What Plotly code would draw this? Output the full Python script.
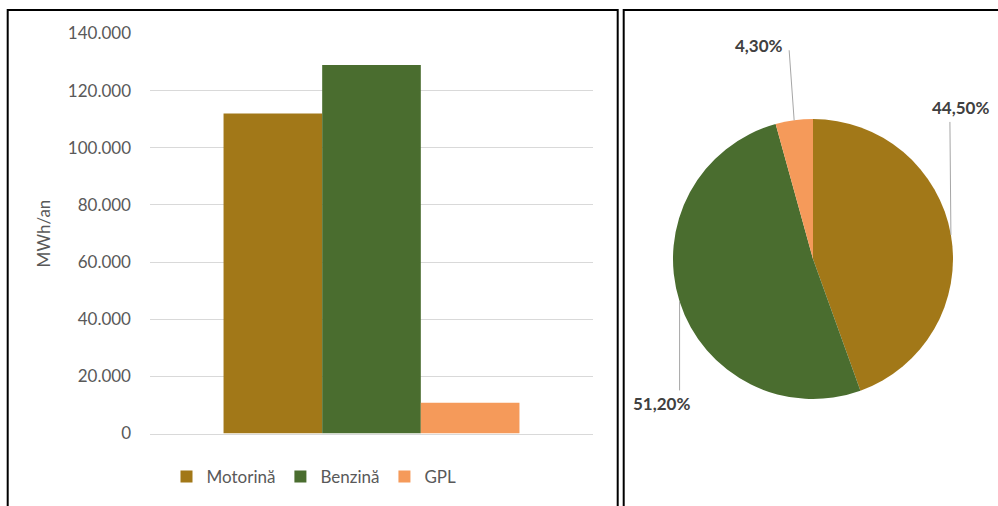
import math
import plotly.graph_objects as go

# ---------------- data ----------------
fuels = ["Motorină", "Benzină", "GPL"]
consumption_mwh = [112000, 129000, 10800]
share_pct = [44.5, 51.2, 4.3]
category = ["Consum"]
y_tick_values = [0, 20000, 40000, 60000, 80000, 100000, 120000, 140000]
y_axis_title = "MWh/an"

# ---------------- style ----------------
colors = ["#A27818", "#4A6D2F", "#F59A5A"]
W, H = 998, 506
FONT = "Lato, 'Open Sans', sans-serif"
GREY = "#595959"


def px(x):
    return x / W


def py(y):
    return 1 - y / H


fig = go.Figure()

for name, val, col in zip(fuels, consumption_mwh, colors):
    fig.add_trace(go.Bar(
        x=category, y=[val], name=name,
        marker=dict(color=col, line=dict(width=0)),
        xaxis="x", yaxis="y",
    ))

# pie geometry (pixels)
pie_cx, pie_cy, pie_r = 813, 259, 140
fig.add_trace(go.Pie(
    labels=fuels, values=share_pct, sort=False, direction="clockwise",
    rotation=0, marker=dict(colors=colors, line=dict(width=0)),
    textinfo="none", showlegend=False,
    domain=dict(x=[px(pie_cx - pie_r), px(pie_cx + pie_r)],
                y=[py(pie_cy + pie_r), py(pie_cy - pie_r)]),
))

# leader lines + labels (placement offsets in pixels)
leader_offsets = [(-1, -113), (0, 89), (-5, -70)]
label_offsets = [(11, -14), (-18, 13), (-30, -5)]

shapes = []
annotations = []
total = sum(share_pct)
cum = 0.0
for val, (ldx, ldy), (tdx, tdy) in zip(share_pct, leader_offsets, label_offsets):
    theta = 2 * math.pi * (cum + val / 2) / total
    cum += val
    ex = pie_cx + pie_r * math.sin(theta)
    ey = pie_cy - pie_r * math.cos(theta)
    lx, ly = ex + ldx, ey + ldy
    shapes.append(dict(type="line", xref="paper", yref="paper",
                       x0=px(ex), y0=py(ey), x1=px(lx), y1=py(ly),
                       line=dict(color="#A6A6A6", width=1)))
    annotations.append(dict(xref="paper", yref="paper",
                            x=px(lx + tdx), y=py(ly + tdy),
                            xanchor="center", yanchor="middle", showarrow=False,
                            text=f"{val:.2f}".replace(".", ",") + "%",
                            font=dict(family=FONT, size=17, color="#404040", weight="bold")))

# panel borders
shapes.append(dict(type="rect", xref="paper", yref="paper",
                   x0=px(7.7), x1=px(617.7), y0=py(530), y1=py(10),
                   line=dict(color="black", width=2), fillcolor="rgba(0,0,0,0)"))
shapes.append(dict(type="rect", xref="paper", yref="paper",
                   x0=px(623.7), x1=px(1020), y0=py(530), y1=py(10),
                   line=dict(color="black", width=2), fillcolor="rgba(0,0,0,0)"))

fig.update_layout(
    width=W, height=H,
    margin=dict(l=0, r=0, t=0, b=0, autoexpand=False),
    paper_bgcolor="white", plot_bgcolor="white",
    separators=",.",
    barmode="group", bargap=0.332, bargroupgap=0,
    font=dict(family=FONT, size=17, color=GREY),
    xaxis=dict(domain=[px(150), px(593)], showticklabels=False, ticks="",
               showgrid=False, zeroline=False, showline=True, automargin=False,
               linecolor="#D9D9D9", linewidth=1, fixedrange=True),
    yaxis=dict(domain=[py(433.5), py(33.5)], range=[0, 140000],
               tickvals=y_tick_values, tickformat=",.0f", automargin=False,
               showgrid=True, gridcolor="#D9D9D9", gridwidth=1,
               zeroline=False, showline=False, ticks="",
               ticklabelstandoff=18,
               tickfont=dict(family=FONT, size=17, color=GREY),
               title=dict(text=y_axis_title, standoff=12,
                          font=dict(family=FONT, size=17, color=GREY))),
    legend=dict(orientation="h", x=px(314), xanchor="center",
                y=py(477), yanchor="middle", bgcolor="rgba(0,0,0,0)",
                font=dict(family=FONT, size=17, color=GREY),
                itemwidth=30, traceorder="normal"),
    shapes=shapes,
    annotations=annotations,
)

fig.write_html("out.html",
               config={"displayModeBar": False},
               post_script="document.body.style.margin='0';document.body.style.overflow='hidden';")
